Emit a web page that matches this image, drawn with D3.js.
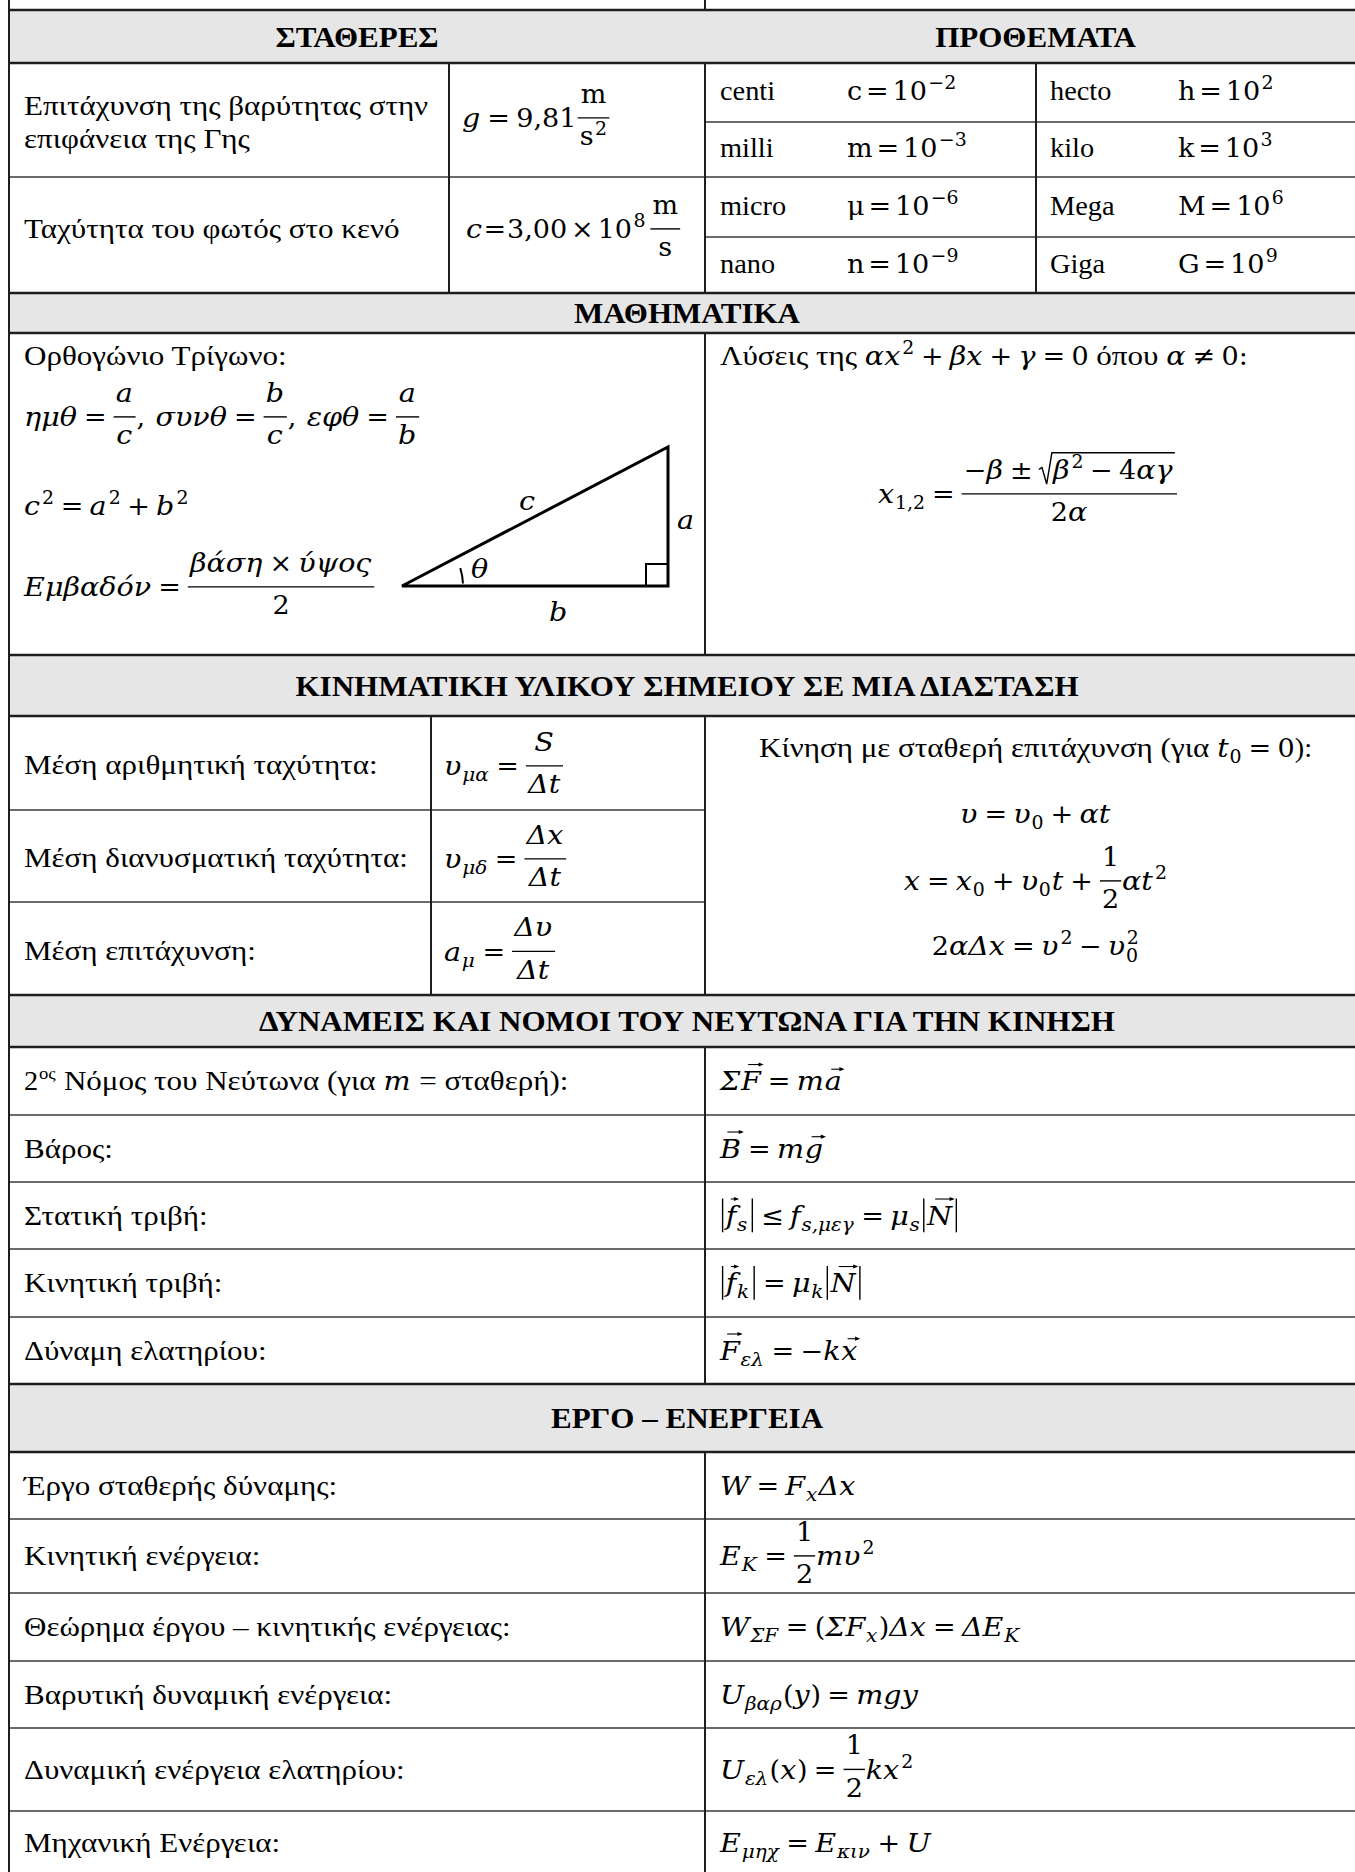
<!DOCTYPE html>
<html>
<head>
<meta charset="utf-8">
<script src="https://cdn.jsdelivr.net/npm/d3@7"></script>
<style>
  body { margin: 0; background: #fff; }
  svg { display: block; }
  text { white-space: pre; }
</style>
</head>
<body>
<svg width="1355" height="1872"></svg>
<script>
/* Formula sheet: the content lives in small arrays, positions further down. */

var sectionTitles = ["ΣΤΑΘΕΡΕΣ", "ΠΡΟΘΕΜΑΤΑ", "ΜΑΘΗΜΑΤΙΚΑ",
  "ΚΙΝΗΜΑΤΙΚΗ ΥΛΙΚΟΥ ΣΗΜΕΙΟΥ ΣΕ ΜΙΑ ΔΙΑΣΤΑΣΗ",
  "ΔΥΝΑΜΕΙΣ ΚΑΙ ΝΟΜΟΙ ΤΟΥ ΝΕΥΤΩΝΑ ΓΙΑ ΤΗΝ ΚΙΝΗΣΗ", "ΕΡΓΟ – ΕΝΕΡΓΕΙΑ"];

var constantLabels = [["Επιτάχυνση της βαρύτητας στην", "επιφάνεια της Γης"], ["Ταχύτητα του φωτός στο κενό"]];
var constantFormulas = [
  [I("g"), O("="), R("9,81"), sp(0.02), frac([R("m")], [R("s"), sup(R("2"))])],
  [I("c"), O("=", 0.03), R("3,00"), O("×", 0.15), R("10"), sup(R("8")), sp(0.15), frac([R("m")], [R("s")])]
];

var prefixNames = ["centi", "milli", "micro", "nano", "hecto", "kilo", "Mega", "Giga"];
var prefixSymbols = ["c", "m", "μ", "n", "h", "k", "M", "G"];
var prefixPowers = ["−2", "−3", "−6", "−9", "2", "3", "6", "9"];

var geometryLines = [
  [T("Ορθογώνιο Τρίγωνο:")],
  [I("ημθ"), O("="), frac([I("a")], [I("c")]), R(","), sp(0.4), I("συνθ"), O("="), frac([I("b")], [I("c")]), R(","), sp(0.4), I("εφθ"), O("="), frac([I("a")], [I("b")])],
  [I("c"), sup(R("2")), O("="), I("a"), sup(R("2")), O("+"), I("b"), sup(R("2"))],
  [I("Εμβαδόν"), O("="), frac([I("βάση"), O("×"), I("ύψος")], [R("2")])]
];
var triangleLabels = ["c", "a", "b", "θ"];
var quadraticLines = [
  [T("Λύσεις της "), I("αx"), sup(R("2")), O("+"), I("βx"), O("+"), I("γ"), O("="), R("0"), T(" όπου "), I("α"), O("≠"), R("0:")],
  [I("x"), sub(R("1,2")), O("="), frac([R("−"), I("β"), O("±"), root(I("β"), sup(R("2")), O("−"), R("4"), I("αγ"))], [R("2"), I("α")])]
];

var kinematicsLabels = ["Μέση αριθμητική ταχύτητα:", "Μέση διανυσματική ταχύτητα:", "Μέση επιτάχυνση:"];
var kinematicsFormulas = [
  [I("υ"), sub(I("μα")), O("="), frac([I("S")], [I("Δt")])],
  [I("υ"), sub(I("μδ")), O("="), frac([I("Δx")], [I("Δt")])],
  [I("a"), sub(I("μ")), O("="), frac([I("Δυ")], [I("Δt")])]
];
var motionLines = [
  [T("Κίνηση με σταθερή επιτάχυνση (για "), I("t"), sub(R("0")), O("="), R("0"), T("):")],
  [I("υ"), O("="), I("υ"), sub(R("0")), O("+"), I("αt")],
  [I("x"), O("="), I("x"), sub(R("0")), O("+"), I("υ"), sub(R("0")), I("t"), O("+"), frac([R("1")], [R("2")]), I("αt"), sup(R("2"))],
  [R("2"), I("αΔx"), O("="), I("υ"), sup(R("2")), O("−"), I("υ"), subsup(R("0"), R("2"))]
];

var forceLabels = [
  [T("2"), tsup("ος"), T(" Νόμος του Νεύτωνα (για "), I("m"), T(" = σταθερή):")],
  "Βάρος:", "Στατική τριβή:", "Κινητική τριβή:", "Δύναμη ελατηρίου:"
];
var forceFormulas = [
  [I("Σ"), vec("F"), O("="), I("m"), vec("a")],
  [vec("B"), O("="), I("m"), vec("g")],
  [abs(vec("f"), sub(I("s"))), O("≤"), I("f"), sub(I("s,μεγ")), O("="), I("μ"), sub(I("s")), abs(vec("N"))],
  [abs(vec("f"), sub(I("k"))), O("="), I("μ"), sub(I("k")), abs(vec("N"))],
  [vec("F"), sub(I("ελ")), O("="), R("−"), I("k"), vec("x")]
];

var energyLabels = ["Έργο σταθερής δύναμης:", "Κινητική ενέργεια:", "Θεώρημα έργου – κινητικής ενέργειας:",
  "Βαρυτική δυναμική ενέργεια:", "Δυναμική ενέργεια ελατηρίου:", "Μηχανική Ενέργεια:"];
var energyFormulas = [
  [I("W"), O("="), I("F"), sub(I("x")), I("Δx")],
  [I("E"), sub(I("K")), O("="), frac([R("1")], [R("2")]), I("mυ"), sup(R("2"))],
  [I("W"), sub(I("ΣF")), O("="), R("("), I("ΣF"), sub(I("x")), R(")"), I("Δx"), O("="), I("ΔE"), sub(I("K"))],
  [I("U"), sub(I("βαρ")), R("("), I("y"), R(")"), O("="), I("mgy")],
  [I("U"), sub(I("ελ")), R("("), I("x"), R(")"), O("="), frac([R("1")], [R("2")]), I("kx"), sup(R("2"))],
  [I("E"), sub(I("μηχ")), O("="), I("E"), sub(I("κιν")), O("+"), I("U")]
];

/* ---------- layout ---------- */

var BODY_FONT = "'Liberation Serif', 'Times New Roman', serif",
    MATH_FONT = "'DejaVu Serif', serif",
    BODY_SIZE = 27, TITLE_SIZE = 29, MATH_SIZE = 26;

// horizontal stretch so the Liberation/DejaVu glyphs fill the same room as the original fonts
var STRETCH_GREEK = 1.15, STRETCH_LATIN = 1.05, STRETCH_ITALIC = 1.1, STRETCH_UPRIGHT = 1.04, STRETCH_TITLE = 1.07;

var xLeft = 9, xMid = 705, xRight = 1366;

var headerBands = [[10, 63], [293, 333], [655, 716], [995, 1047], [1384, 1452]];
var titleCenters = [(xLeft + xMid) / 2, (xMid + xRight) / 2, 687, 687, 687, 687];
var titleBands = [0, 0, 1, 2, 3, 4];

var kinRows = [716, 810, 902, 995],
    forceRows = [1047, 1115, 1182, 1249, 1317, 1384],
    energyRows = [1452, 1519, 1593, 1661, 1728, 1811, 1875];

var hLines = [
  // [y, x0, x1, heavy]
  [10, xLeft, xRight, 1], [63, xLeft, xRight, 1], [177, xLeft, xRight, 0],
  [122, xMid, xRight, 0], [237, xMid, xRight, 0],
  [293, xLeft, xRight, 1], [333, xLeft, xRight, 1], [655, xLeft, xRight, 1], [716, xLeft, xRight, 1],
  [810, xLeft, xMid, 0], [902, xLeft, xMid, 0], [995, xLeft, xRight, 1], [1047, xLeft, xRight, 1],
  [1115, xLeft, xRight, 0], [1182, xLeft, xRight, 0], [1249, xLeft, xRight, 0], [1317, xLeft, xRight, 0],
  [1384, xLeft, xRight, 1], [1452, xLeft, xRight, 1],
  [1519, xLeft, xRight, 0], [1593, xLeft, xRight, 0], [1661, xLeft, xRight, 0], [1728, xLeft, xRight, 0], [1811, xLeft, xRight, 0]
];
var vLines = [
  [xLeft, 0, 1872], [xMid, 0, 10], [xMid, 63, 293], [449, 63, 293], [1036, 63, 293],
  [xMid, 333, 655], [431, 716, 995], [xMid, 716, 995], [xMid, 1047, 1384], [xMid, 1452, 1872]
];

/* ---------- tiny formula typesetter ---------- */

function I(s) { return {k: "i", s: s}; }
function R(s) { return {k: "r", s: s}; }
function T(s) { return {k: "t", s: s}; }
function O(s, g) { return {k: "op", s: s, g: g == null ? 0.24 : g}; }
function sp(e) { return {k: "sp", e: e}; }
function sub() { return {k: "sub", c: [].slice.call(arguments)}; }
function sup() { return {k: "sup", c: [].slice.call(arguments)}; }
function subsup(a, b) { return {k: "subsup", a: [a], b: [b]}; }
function frac(n, d) { return {k: "frac", n: n, d: d}; }
function vec(s) { return {k: "vec", s: s}; }
function root() { return {k: "sqrt", c: [].slice.call(arguments)}; }
function abs() { return {k: "abs", c: [].slice.call(arguments)}; }
function tsup(s) { return {k: "tsup", s: s}; }

var ctx = document.createElement("canvas").getContext("2d");

function fontOf(k, size) {
  if (k == "i") return "italic " + size + "px " + MATH_FONT;
  if (k == "r") return size + "px " + MATH_FONT;
  return size + "px " + BODY_FONT;
}

function stretchOf(k, s) {
  if (k == "t") return /[\u0370-\u03ff\u1f00-\u1fff]/.test(s) ? STRETCH_GREEK : STRETCH_LATIN;
  return k == "i" ? STRETCH_ITALIC : STRETCH_UPRIGHT;
}

function measure(s, k, size) {
  ctx.font = fontOf(k, size);
  return ctx.measureText(s).width * stretchOf(k, s);
}

function put(g, s, k, size, x, y) {
  return g.append("text")
    .attr("transform", "translate(" + x + "," + y + ") scale(" + stretchOf(k, s) + ",1)")
    .attr("font-family", k == "t" ? BODY_FONT : MATH_FONT)
    .attr("font-style", k == "i" ? "italic" : "normal")
    .attr("font-size", size)
    .attr("fill", "#000")
    .text(s);
}

function box(tokens, size) {
  var parts = tokens.map(function(t) { return tokBox(t, size); });
  return {
    w: d3.sum(parts, function(p) { return p.w; }),
    draw: function(g, x, y) {
      parts.forEach(function(p) { p.draw(g, x, y); x += p.w; });
    }
  };
}

function tokBox(t, m) {
  var w, b, a, c;
  switch (t.k) {
    case "t":
      w = measure(t.s, "t", BODY_SIZE);
      return {w: w, draw: function(g, x, y) { put(g, t.s, "t", BODY_SIZE, x, y); }};
    case "i": case "r":
      w = measure(t.s, t.k, m) + (t.k == "i" ? 0.03 * m : 0);
      return {w: w, draw: function(g, x, y) { put(g, t.s, t.k, m, x, y); }};
    case "op":
      w = measure(t.s, "r", m);
      var gap = t.g * m;
      return {w: w + 2 * gap, draw: function(g, x, y) { put(g, t.s, "r", m, x + gap, y); }};
    case "sp":
      return {w: t.e * m, draw: function() {}};
    case "tsup":
      w = measure(t.s, "t", BODY_SIZE * 0.6);
      return {w: w + 0.05 * m, draw: function(g, x, y) { put(g, t.s, "t", BODY_SIZE * 0.6, x + 0.03 * m, y - 0.42 * m); }};
    case "sub":
      b = box(t.c, m * 0.7);
      return {w: b.w + 0.03 * m, draw: function(g, x, y) { b.draw(g, x, y + 0.24 * m); }};
    case "sup":
      b = box(t.c, m * 0.7);
      return {w: b.w + 0.06 * m, draw: function(g, x, y) { b.draw(g, x + 0.05 * m, y - 0.42 * m); }};
    case "subsup":
      a = box(t.a, m * 0.7); c = box(t.b, m * 0.7);
      return {w: Math.max(a.w, c.w) + 0.05 * m, draw: function(g, x, y) {
        a.draw(g, x, y + 0.26 * m); c.draw(g, x + 0.03 * m, y - 0.42 * m);
      }};
    case "frac":
      var nb = box(t.n, m), db = box(t.d, m);
      w = Math.max(nb.w, db.w) + 0.16 * m;
      return {w: w + 0.06 * m, draw: function(g, x, y) {
        var bar = y - 0.35 * m;
        g.append("line").attr("x1", x + 0.03 * m).attr("x2", x + 0.03 * m + w)
          .attr("y1", bar).attr("y2", bar).attr("stroke", "#000").attr("stroke-width", 1.4);
        nb.draw(g, x + 0.03 * m + (w - nb.w) / 2, bar - 0.58 * m);
        db.draw(g, x + 0.03 * m + (w - db.w) / 2, bar + 1.06 * m);
      }};
    case "vec":
      w = measure(t.s, "i", m) + 0.03 * m;
      var low = "agx".indexOf(t.s) >= 0;
      return {w: w, draw: function(g, x, y) {
        put(g, t.s, "i", m, x, y);
        var ya = y - (low ? 0.8 : 0.98) * m, x0 = x + 0.22 * w + 0.1 * m, x1 = x + w + 0.08 * m;
        g.append("line").attr("x1", x0).attr("x2", x1 - 2).attr("y1", ya).attr("y2", ya)
          .attr("stroke", "#000").attr("stroke-width", 1.1);
        g.append("path").attr("d", "M" + x1 + "," + ya + "l" + (-0.2 * m) + "," + (-0.08 * m) + "l0," + (0.16 * m) + "z")
          .attr("fill", "#000");
      }};
    case "sqrt":
      b = box(t.c, m);
      return {w: b.w + 0.6 * m, draw: function(g, x, y) {
        var top = y - 1.0 * m;
        g.append("path")
          .attr("d", "M" + x + "," + (y - 0.36 * m) + "L" + (x + 0.12 * m) + "," + (y - 0.43 * m) +
            "L" + (x + 0.3 * m) + "," + (y + 0.2 * m) + "L" + (x + 0.5 * m) + "," + top +
            "L" + (x + 0.6 * m + b.w) + "," + top)
          .attr("fill", "none").attr("stroke", "#000").attr("stroke-width", 1.4);
        b.draw(g, x + 0.54 * m, y);
      }};
    case "abs":
      b = box(t.c, m);
      return {w: b.w + 0.46 * m, draw: function(g, x, y) {
        [x + 0.1 * m, x + 0.36 * m + b.w].forEach(function(lx) {
          g.append("line").attr("x1", lx).attr("x2", lx).attr("y1", y + 0.3 * m).attr("y2", y - 1.0 * m)
            .attr("stroke", "#000").attr("stroke-width", 1.4);
        });
        b.draw(g, x + 0.22 * m, y);
      }};
  }
}

function drawLine(g, content, x, y, anchor) {
  if (typeof content == "string") content = [T(content)];
  var b = box(content, MATH_SIZE);
  b.draw(g, anchor == "middle" ? x - b.w / 2 : x, y);
  return b.w;
}

/* ---------- draw ---------- */

var svg = d3.select("svg");

svg.selectAll("rect.band")
  .data(headerBands)
  .enter().append("rect")
    .attr("class", "band")
    .attr("x", xLeft).attr("y", function(d) { return d[0]; })
    .attr("width", xRight - xLeft)
    .attr("height", function(d) { return d[1] - d[0]; })
    .attr("fill", "#e7e6e6");

svg.selectAll("text.title")
  .data(sectionTitles)
  .enter().append("text")
    .attr("class", "title")
    .attr("transform", function(d, i) {
      var b = headerBands[titleBands[i]];
      return "translate(" + titleCenters[i] + "," + ((b[0] + b[1]) / 2 + 10) + ") scale(" + STRETCH_TITLE + ",1)";
    })
    .attr("text-anchor", "middle")
    .attr("font-family", BODY_FONT)
    .attr("font-weight", "bold")
    .attr("font-size", TITLE_SIZE)
    .text(function(d) { return d; });

var content = svg.append("g");

// constants
var constLabelY = [[115, 148], [238]];
constantLabels.forEach(function(lines, i) {
  lines.forEach(function(s, j) { drawLine(content, s, 24, constLabelY[i][j]); });
});
drawLine(content, constantFormulas[0], 462, 127);
drawLine(content, constantFormulas[1], 466, 238);

// prefixes
var prefixCols = d3.scaleOrdinal().domain([0, 1]).range([[720, 847], [1050, 1178]]);
var prefixBase = d3.scaleOrdinal().domain([0, 1, 2, 3]).range([100, 157, 215, 273]);
prefixNames.forEach(function(name, i) {
  var col = prefixCols(Math.floor(i / 4)), y = prefixBase(i % 4);
  drawLine(content, name, col[0], y);
  drawLine(content, [R(prefixSymbols[i]), O("=", 0.15), R("10"), sup(R(prefixPowers[i]))], col[1], y);
});

// geometry
var geoY = [365, 426, 515, 596];
geometryLines.forEach(function(tokens, i) { drawLine(content, tokens, 24, geoY[i]); });

var tri = {x0: 402, x1: 668, y0: 586, y1: 447};
var triLine = d3.line();
content.append("path")
  .attr("d", triLine([[tri.x0, tri.y0], [tri.x1, tri.y0], [tri.x1, tri.y1]]) + "Z")
  .attr("fill", "none").attr("stroke", "#000").attr("stroke-width", 3).attr("stroke-linejoin", "miter");
content.append("path")
  .attr("d", triLine([[tri.x1 - 22, tri.y0], [tri.x1 - 22, tri.y0 - 22], [tri.x1, tri.y0 - 22]]))
  .attr("fill", "none").attr("stroke", "#000").attr("stroke-width", 2);
// the short angle mark just right of the vertex
content.append("path")
  .attr("transform", "translate(" + tri.x0 + "," + tri.y0 + ")")
  .attr("d", d3.arc()({innerRadius: 61, outerRadius: 61, startAngle: Math.PI / 2 - 0.3, endAngle: Math.PI / 2 - 0.04}))
  .attr("fill", "none").attr("stroke", "#000").attr("stroke-width", 2);
var triLabelPos = [[519, 510], [677, 529], [549, 621], [471, 578]];
triangleLabels.forEach(function(s, i) { drawLine(content, [I(s)], triLabelPos[i][0], triLabelPos[i][1]); });

drawLine(content, quadraticLines[0], 720, 365);
drawLine(content, quadraticLines[1], 878, 503);

// kinematics
kinematicsLabels.forEach(function(s, i) {
  var y = (kinRows[i] + kinRows[i + 1]) / 2 + 11;
  drawLine(content, s, 24, y);
  drawLine(content, kinematicsFormulas[i], 444, y + 1);
});
var motionY = [757, 823, 890, 955];
motionLines.forEach(function(tokens, i) { drawLine(content, tokens, (xMid + xRight) / 2, motionY[i], "middle"); });

// forces
forceLabels.forEach(function(s, i) {
  var y = (forceRows[i] + forceRows[i + 1]) / 2 + 9;
  drawLine(content, s, 24, y);
  drawLine(content, forceFormulas[i], 720, y);
});

// energy
energyLabels.forEach(function(s, i) {
  var y = (energyRows[i] + energyRows[i + 1]) / 2 + 9;
  drawLine(content, s, 24, y);
  drawLine(content, energyFormulas[i], 720, y);
});

// grid
svg.selectAll("line.h")
  .data(hLines)
  .enter().append("line")
    .attr("class", "h")
    .attr("x1", function(d) { return d[1]; }).attr("x2", function(d) { return d[2]; })
    .attr("y1", function(d) { return d[0]; }).attr("y2", function(d) { return d[0]; })
    .attr("stroke", function(d) { return d[3] ? "#1e1e1e" : "#3a3a3a"; })
    .attr("stroke-width", function(d) { return d[3] ? 2.6 : 1.7; });

svg.selectAll("line.v")
  .data(vLines)
  .enter().append("line")
    .attr("class", "v")
    .attr("x1", function(d) { return d[0]; }).attr("x2", function(d) { return d[0]; })
    .attr("y1", function(d) { return d[1]; }).attr("y2", function(d) { return d[2]; })
    .attr("stroke", "#1e1e1e")
    .attr("stroke-width", 2);
</script>
</body>
</html>
